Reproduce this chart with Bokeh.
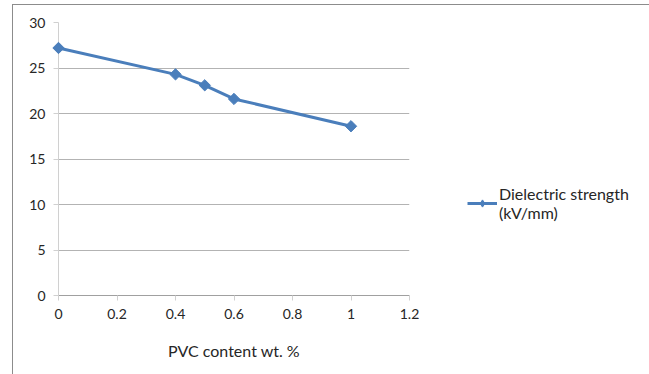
import math
from bokeh.plotting import figure
from bokeh.layouts import row
from bokeh.models import Range1d, FixedTicker, Legend, LegendItem
from bokeh.embed import file_html
from bokeh.resources import INLINE

# ---- data ----
pvc_content = [0, 0.4, 0.5, 0.6, 1.0]
dielectric_strength = [27.2, 24.3, 23.1, 21.6, 18.6]
x_ticks = [0, 0.2, 0.4, 0.6, 0.8, 1.0, 1.2]
x_tick_labels = ["0", "0.2", "0.4", "0.6", "0.8", "1", "1.2"]
y_ticks = [0, 5, 10, 15, 20, 25, 30]
y_tick_labels = ["0", "5", "10", "15", "20", "25", "30"]
series_label = "Dielectric strength\n(kV/mm)"
x_title = "PVC content wt. %"

FONT = "Lato"
BLUE = "#4a7ebb"
TXT = "#262626"
BORDER = "1px solid #8c8c8c"

# ---- main chart ----
p = figure(width=416, height=369, output_backend="svg", toolbar_location=None,
           x_range=Range1d(0, 1.2), y_range=Range1d(0, 30),
           min_border_left=45, min_border_right=20,
           min_border_top=17, min_border_bottom=79)

p.outline_line_color = None
p.background_fill_color = "white"
p.border_fill_color = "white"

p.xgrid.visible = False
p.ygrid.ticker = FixedTicker(ticks=y_ticks)
p.ygrid.grid_line_color = "#b3b3b3"
p.ygrid.grid_line_width = 1

p.xaxis.ticker = FixedTicker(ticks=x_ticks)
p.xaxis.major_label_overrides = {t: l for t, l in zip(x_ticks, x_tick_labels)}
p.yaxis.ticker = FixedTicker(ticks=y_ticks)
p.yaxis.major_label_overrides = {t: l for t, l in zip(y_ticks, y_tick_labels)}

for ax in (p.xaxis[0], p.yaxis[0]):
    ax.major_tick_in = 0
    ax.major_tick_out = 5
    ax.minor_tick_line_color = None
    ax.major_label_text_font = FONT
    ax.major_label_text_font_size = "14px"
    ax.major_label_text_color = TXT
    ax.major_tick_line_color = "#d0d0d0"

p.yaxis.axis_line_color = "#d0d0d0"
p.yaxis.major_label_standoff = 8
p.xaxis.axis_line_color = "#a0a0a0"
p.xaxis.major_label_standoff = 8

p.xaxis.axis_label = x_title
p.xaxis.axis_label_text_font = FONT
p.xaxis.axis_label_text_font_size = "16px"
p.xaxis.axis_label_text_font_style = "normal"
p.xaxis.axis_label_text_color = TXT
p.xaxis.axis_label_standoff = 19

line_r = p.line(pvc_content, dielectric_strength, line_color=BLUE, line_width=3)
pts_r = p.scatter(pvc_content, dielectric_strength, marker="square", size=8,
                  angle=math.pi / 4, fill_color=BLUE, line_color=BLUE)
pts_r.level = "overlay"
line_r.level = "overlay"

# ---- legend panel ----
q = figure(width=220, height=369, output_backend="svg", toolbar_location=None,
           x_range=Range1d(0, 220), y_range=Range1d(0, 369),
           min_border=0, x_axis_type=None, y_axis_type=None)
q.outline_line_color = None
q.grid.visible = False
q.background_fill_color = "white"
q.border_fill_color = "white"

# off-screen stand-ins that carry the series style for the legend key
lg_line = q.line(x=[-50, -40], y=[-50, -50], line_color=BLUE, line_width=3)
lg_pts = q.scatter(x=[-50], y=[-50], marker="diamond", size=10,
                   fill_color=BLUE, line_color=BLUE)

legend = Legend(items=[LegendItem(label=series_label, renderers=[lg_line, lg_pts])],
                location=(38, 73), orientation="vertical")
legend.border_line_color = None
legend.background_fill_alpha = 0
legend.padding = 0
legend.margin = 0
legend.spacing = 0
legend.glyph_width = 30
legend.glyph_height = 18
legend.label_standoff = 2
legend.label_text_font = FONT
legend.label_text_font_size = "16px"
legend.label_text_line_height = 1.4
legend.label_text_color = TXT
q.add_layout(legend, "center")

layout = row(p, q, margin=(4, 0, 0, 12),
             styles={"border-left": BORDER, "border-top": BORDER, "border-right": BORDER})

open("out.html", "w").write(file_html(layout, INLINE))
